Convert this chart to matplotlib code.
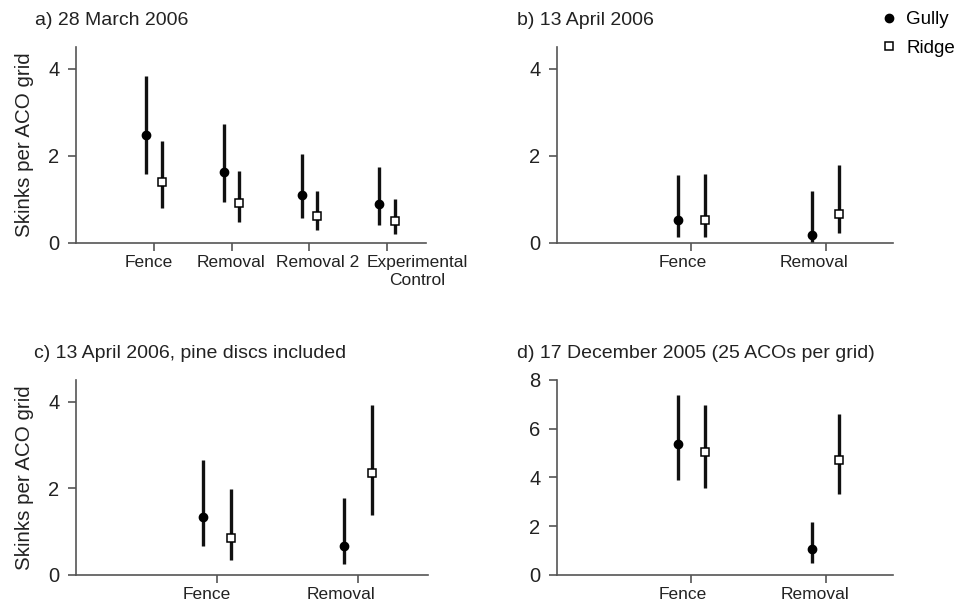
import matplotlib.pyplot as plt
import matplotlib.transforms as mtransforms
import numpy as np

plt.rcParams["font.family"] = ["Liberation Sans", "DejaVu Sans"]

# panel a) 28 March 2006
a_cats = ["Fence", "Removal", "Removal 2", "Experimental\nControl"]
a_gully = [2.48, 1.64, 1.10, 0.90]
a_gully_lo = [1.59, 0.93, 0.57, 0.41]
a_gully_hi = [3.84, 2.74, 2.05, 1.75]
a_ridge = [1.40, 0.92, 0.61, 0.50]
a_ridge_lo = [0.81, 0.48, 0.30, 0.21]
a_ridge_hi = [2.34, 1.65, 1.20, 1.01]

# panel b) 13 April 2006
b_cats = ["Fence", "Removal"]
b_gully = [0.52, 0.18]
b_gully_lo = [0.14, 0.03]
b_gully_hi = [1.56, 1.20]
b_ridge = [0.52, 0.67]
b_ridge_lo = [0.14, 0.24]
b_ridge_hi = [1.59, 1.80]

# panel c) 13 April 2006, pine discs included
c_cats = ["Fence", "Removal"]
c_gully = [1.34, 0.67]
c_gully_lo = [0.66, 0.24]
c_gully_hi = [2.65, 1.78]
c_ridge = [0.85, 2.34]
c_ridge_lo = [0.33, 1.39]
c_ridge_hi = [1.99, 3.92]

# panel d) 17 December 2005
d_cats = ["Fence", "Removal"]
d_gully = [5.36, 1.05]
d_gully_lo = [3.88, 0.48]
d_gully_hi = [7.39, 2.15]
d_ridge = [5.03, 4.70]
d_ridge_lo = [3.57, 3.30]
d_ridge_hi = [6.98, 6.60]

SPINE = "#555555"
TEXT = "#222222"


def draw_panel(ax, cats, g, g_lo, g_hi, r, r_lo, r_hi, ymax, yticks, title,
               ylabel=None, label_shift=None):
    x = np.arange(1, len(cats) + 1)
    g = np.array(g)
    r = np.array(r)
    g_err = [g - np.array(g_lo), np.array(g_hi) - g]
    r_err = [r - np.array(r_lo), np.array(r_hi) - r]
    ax.errorbar(x - 0.1, g, yerr=g_err, fmt="o", color="black", ecolor="#111111",
                elinewidth=2.4, capsize=0, markersize=6, zorder=3)
    ax.errorbar(x + 0.1, r, yerr=r_err, fmt="s", color="black", ecolor="#111111",
                markerfacecolor="white", markeredgecolor="black", markeredgewidth=1.1,
                elinewidth=2.4, capsize=0, markersize=6, zorder=3)
    ax.set_xlim(0, len(cats) + 0.5)
    ax.set_ylim(0, ymax)
    ax.set_xticks(x)
    ax.set_xticklabels(cats, fontsize=12.5, color=TEXT)
    ax.set_yticks(yticks)
    ax.set_yticklabels([str(t) for t in yticks], fontsize=14.5, color=TEXT)
    for side in ["top", "right"]:
        ax.spines[side].set_visible(False)
    for side in ["left", "bottom"]:
        ax.spines[side].set_color(SPINE)
        ax.spines[side].set_linewidth(1.2)
    ax.tick_params(direction="out", length=6, width=1.2, color=SPINE)
    ax.tick_params(axis="y", pad=6)
    ax.tick_params(axis="x", pad=3)
    if label_shift:
        for lab, dx in zip(ax.get_xticklabels(), label_shift):
            lab.set_transform(lab.get_transform() +
                              mtransforms.ScaledTranslation(dx / 100, 0, fig.dpi_scale_trans))
    if ylabel:
        ax.set_ylabel(ylabel, fontsize=14.8, color=TEXT, labelpad=10)
    ax.set_title(title, loc="left", fontsize=14, color=TEXT, x=-0.118, pad=16)


fig = plt.figure(figsize=(9.6, 6.04), dpi=100)
ax_a = fig.add_axes([0.0792, 0.5977, 0.3646, 0.3245])
ax_b = fig.add_axes([0.5802, 0.5977, 0.35, 0.3245])
ax_c = fig.add_axes([0.0792, 0.0485, 0.3667, 0.3224])
ax_d = fig.add_axes([0.5802, 0.0485, 0.35, 0.3224])

draw_panel(ax_a, a_cats, a_gully, a_gully_lo, a_gully_hi, a_ridge, a_ridge_lo, a_ridge_hi,
           4.5, [0, 2, 4], "a) 28 March 2006", "Skinks per ACO grid", [-5, -1, 8, 30])
draw_panel(ax_b, b_cats, b_gully, b_gully_lo, b_gully_hi, b_ridge, b_ridge_lo, b_ridge_hi,
           4.5, [0, 2, 4], "b) 13 April 2006", None, [-9, -12])
draw_panel(ax_c, c_cats, c_gully, c_gully_lo, c_gully_hi, c_ridge, c_ridge_lo, c_ridge_hi,
           4.5, [0, 2, 4], "c) 13 April 2006, pine discs included", "Skinks per ACO grid",
           [-10, -17])
draw_panel(ax_d, d_cats, d_gully, d_gully_lo, d_gully_hi, d_ridge, d_ridge_lo, d_ridge_hi,
           8, [0, 2, 4, 6, 8], "d) 17 December 2005 (25 ACOs per grid)", None, [-9, -11])

gully_h = plt.Line2D([], [], marker="o", color="black", linestyle="none", markersize=6)
ridge_h = plt.Line2D([], [], marker="s", color="black", markerfacecolor="white",
                     markeredgewidth=1.1, linestyle="none", markersize=6)
fig.legend([gully_h, ridge_h], ["Gully", "Ridge"], loc="upper left",
           bbox_to_anchor=(0.907, 1.0), frameon=False, fontsize=13.5,
           handlelength=0.8, handletextpad=0.5, labelspacing=0.6, borderaxespad=0.2)

fig.savefig("out.png", dpi=100)
